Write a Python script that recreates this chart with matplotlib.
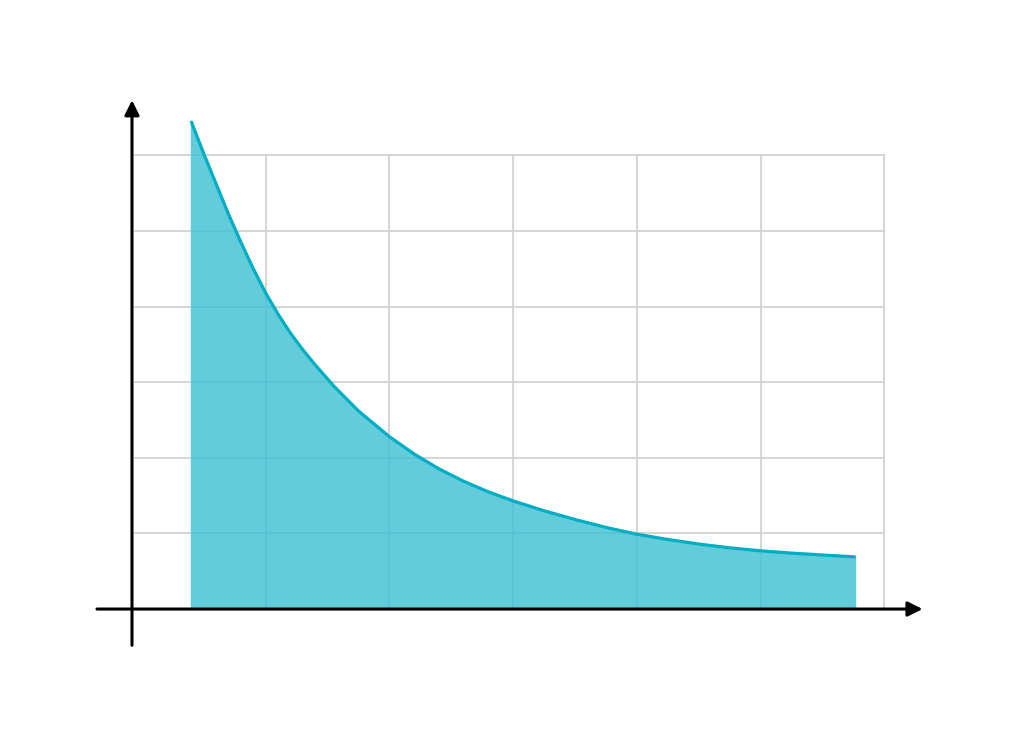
import matplotlib
matplotlib.use("Agg")
import matplotlib.pyplot as plt

# curve (grid units)
x = [0.40, 0.50, 0.60, 0.70, 0.80, 0.90, 1.00, 1.10, 1.20, 1.30, 1.40, 1.55,
     1.75, 2.00, 2.20, 2.40, 2.60, 2.80, 3.00, 3.25, 3.50, 3.75, 4.00, 4.25,
     4.50, 4.75, 5.00, 5.25, 5.50, 5.76]
y = [6.44, 6.02, 5.62, 5.22, 4.85, 4.50, 4.18, 3.90, 3.65, 3.43, 3.23, 2.95,
     2.62, 2.28, 2.05, 1.855, 1.69, 1.55, 1.43, 1.30, 1.185, 1.08, 0.99, 0.92,
     0.86, 0.81, 0.77, 0.74, 0.715, 0.69]
grid_x = [1, 2, 3, 4, 5, 6]
grid_y = [1, 2, 3, 4, 5, 6]

fig = plt.figure(figsize=(10.24, 7.47), dpi=100)
ax = fig.add_axes([0, 0, 1, 1])
ax.set_xlim(-1.148, 7.130)
ax.set_ylim(-1.825, 8.056)
ax.axis("off")

grey = "#d2d2d2"
for gx in grid_x:
    ax.plot([gx, gx], [0, 6], color=grey, lw=1.3, zorder=1)
for gy in grid_y:
    ax.plot([-0.06, 6], [gy, gy], color=grey, lw=1.3, zorder=1)

ax.fill_between(x, y, 0, color="#3fc1d4", alpha=0.82, lw=0, zorder=2)
ax.plot([x[0], x[0]], [0, y[0]], color="#5ecbdb", lw=1, zorder=2)
ax.plot([x[-1], x[-1]], [0, y[-1]], color="#5ecbdb", lw=1, zorder=2)
ax.plot(x, y, color="#00aec4", lw=2.3, solid_capstyle="round",
        solid_joinstyle="round", zorder=3)

arrow = dict(arrowstyle="-|>", lw=2.2, color="black", mutation_scale=22,
             shrinkA=0, shrinkB=0)
ax.annotate("", xy=(6.31, 0), xytext=(-0.364, 0), arrowprops=arrow, zorder=4)
ax.annotate("", xy=(-0.081, 6.73), xytext=(-0.081, -0.48), arrowprops=arrow, zorder=4)

fig.savefig("out.png", dpi=100, facecolor="white")
